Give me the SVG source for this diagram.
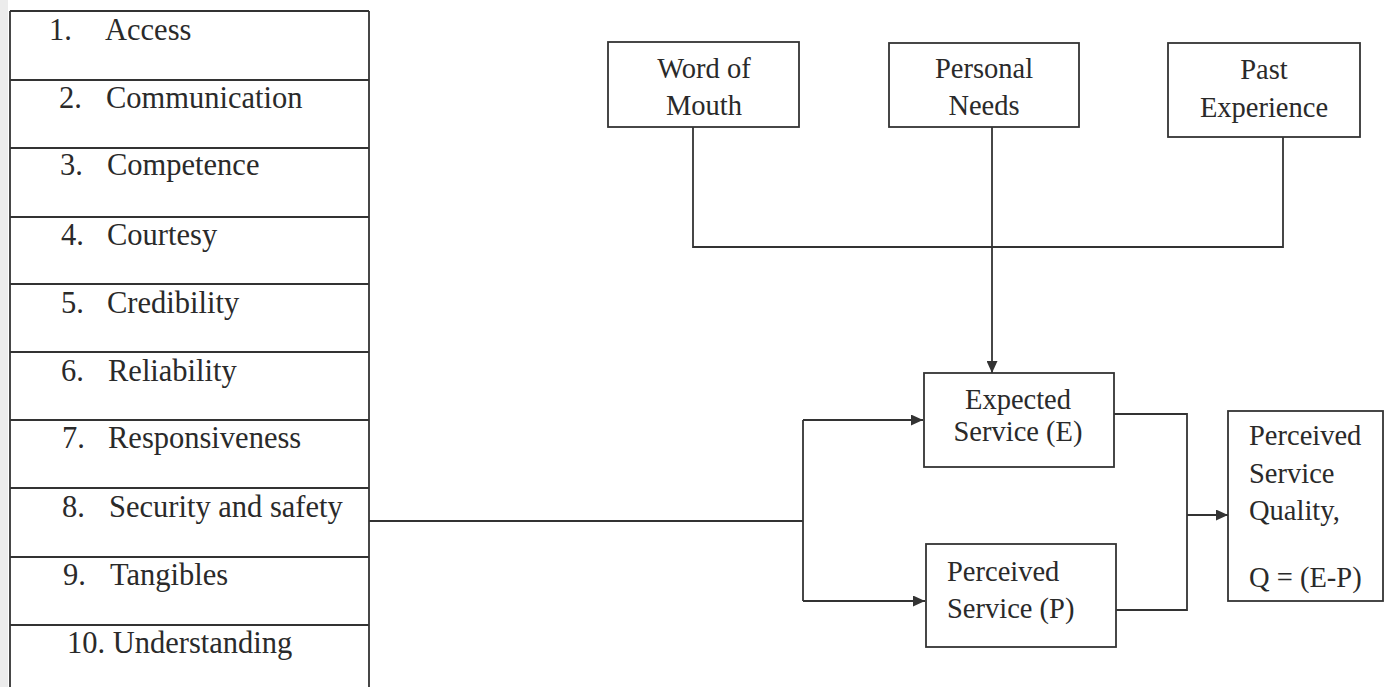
<svg xmlns="http://www.w3.org/2000/svg" width="1389" height="687" viewBox="0 0 1389 687">
<style>
  .bg { fill: #ffffff; }
  .box { fill: #ffffff; stroke: #333333; stroke-width: 1.8; }
  .ln { fill: none; stroke: #333333; stroke-width: 1.8; }
  .t { font-family: "Liberation Serif", "Times New Roman", serif; fill: #2a2a2a; }
  .tl { font-size: 30.5px; }
  .tb { font-size: 28.5px; }
  .c { text-anchor: middle; }
</style>
<defs>
  <marker id="arr" markerUnits="userSpaceOnUse" markerWidth="13" markerHeight="11" refX="12" refY="5.5" orient="auto">
    <path d="M0,0 L12,5.5 L0,11 z" fill="#333333"/>
  </marker>
</defs>
<rect class="bg" x="0" y="0" width="1389" height="687"/>
<rect x="0" y="0" width="8" height="687" fill="#ececec"/>

<g id="dimensions-list">
  <path class="ln" d="M10,11 H369 M10,11 V687 M369,11 V687 M10,80 H369 M10,148 H369 M10,217 H369 M10,284 H369 M10,352 H369 M10,420 H369 M10,488 H369 M10,557 H369 M10,625 H369"/>
  <text class="t tl" x="49" y="40">1.</text><text class="t tl" x="105" y="40">Access</text>
  <text class="t tl" x="59" y="108">2.</text><text class="t tl" x="106" y="108">Communication</text>
  <text class="t tl" x="60" y="175">3.</text><text class="t tl" x="107" y="175">Competence</text>
  <text class="t tl" x="61" y="245">4.</text><text class="t tl" x="107" y="245">Courtesy</text>
  <text class="t tl" x="61" y="313">5.</text><text class="t tl" x="107" y="313">Credibility</text>
  <text class="t tl" x="61" y="381">6.</text><text class="t tl" x="108" y="381">Reliability</text>
  <text class="t tl" x="62" y="448">7.</text><text class="t tl" x="108" y="448">Responsiveness</text>
  <text class="t tl" x="62" y="517">8.</text><text class="t tl" x="109" y="517">Security and safety</text>
  <text class="t tl" x="63" y="585">9.</text><text class="t tl" x="110" y="585">Tangibles</text>
  <text class="t tl" x="67" y="653">10. Understanding</text>
</g>

<g id="connectors">
  <path class="ln" d="M693,127 V247 H1283 V137"/>
  <path class="ln" d="M992,127 V373" marker-end="url(#arr)"/>
  <path class="ln" d="M369,521 H803"/>
  <path class="ln" d="M803,420 V601"/>
  <path class="ln" d="M803,420 H923" marker-end="url(#arr)"/>
  <path class="ln" d="M803,601 H925" marker-end="url(#arr)"/>
  <path class="ln" d="M1114,414 H1187 V610 H1116"/>
  <path class="ln" d="M1187,515 H1228" marker-end="url(#arr)"/>
</g>

<g id="word-of-mouth">
  <rect class="box" x="608" y="42" width="191" height="85"/>
  <text class="t tb c" x="704" y="78">Word of</text>
  <text class="t tb c" x="704" y="115">Mouth</text>
</g>

<g id="personal-needs">
  <rect class="box" x="889" y="43" width="190" height="84"/>
  <text class="t tb c" x="984" y="78">Personal</text>
  <text class="t tb c" x="984" y="115">Needs</text>
</g>

<g id="past-experience">
  <rect class="box" x="1168" y="43" width="192" height="94"/>
  <text class="t tb c" x="1264" y="79">Past</text>
  <text class="t tb c" x="1264" y="117">Experience</text>
</g>

<g id="expected-service">
  <rect class="box" x="924" y="373" width="190" height="94"/>
  <text class="t tb c" x="1018" y="409">Expected</text>
  <text class="t tb c" x="1018" y="441">Service (E)</text>
</g>

<g id="perceived-service">
  <rect class="box" x="926" y="544" width="190" height="103"/>
  <text class="t tb" x="947" y="581">Perceived</text>
  <text class="t tb" x="947" y="618">Service (P)</text>
</g>

<g id="perceived-service-quality">
  <rect class="box" x="1228" y="411" width="155" height="190"/>
  <text class="t tb" x="1249" y="445">Perceived</text>
  <text class="t tb" x="1249" y="483">Service</text>
  <text class="t tb" x="1249" y="520">Quality,</text>
  <text class="t tb" x="1249" y="587">Q = (E-P)</text>
</g>
</svg>
